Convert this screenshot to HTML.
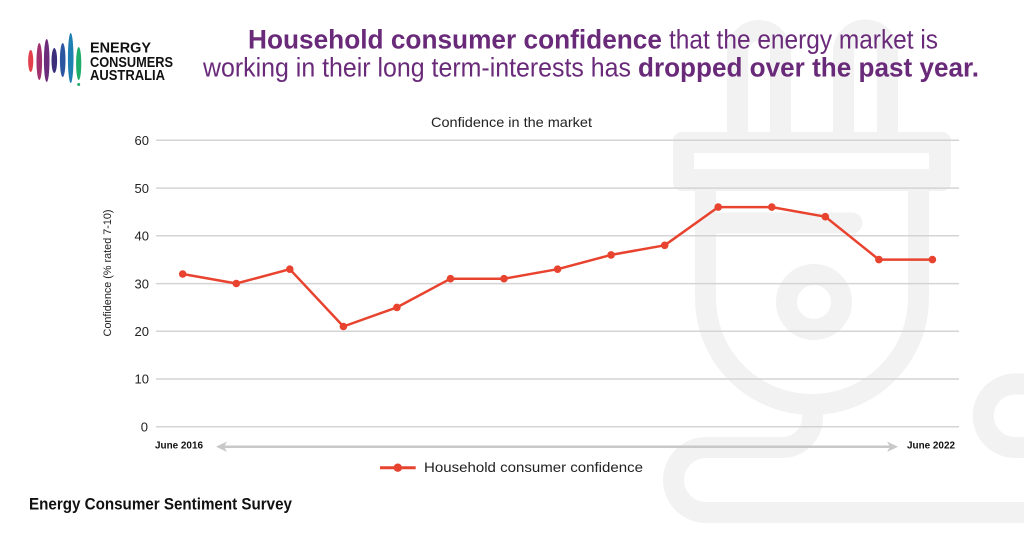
<!DOCTYPE html>
<html><head><meta charset="utf-8"><style>
html,body{margin:0;padding:0;background:#fff;}
svg{display:block;}
text{font-family:"Liberation Sans",sans-serif;}
</style></head><body>
<svg width="1024" height="538" viewBox="0 0 1024 538" xmlns="http://www.w3.org/2000/svg">
<rect width="1024" height="538" fill="#fff"/>
<!-- background plug icon -->
<g fill="none" stroke="#f2f2f2" stroke-width="21">
  <path d="M737.5,135 V52 A21.5,21.5 0 0 1 780.5,52 V135"/>
  <path d="M843.5,135 V52 A22,22 0 0 1 887.5,52 V135"/>
  <path d="M705.5,185 V298 A106.5,106.5 0 0 0 918.5,298 V185"/>
  <path d="M706,223 H852" stroke-linecap="round"/>
  <circle cx="814" cy="302" r="27.5"/>
  <path d="M812.5,400 V417.5 A30,30 0 0 1 782.5,447.5 H706 A32.5,32.5 0 0 0 706,512.5 H1030"/>
  <path d="M1030,384 H1015 A31.75,31.75 0 0 0 1015,447.5 H1030"/>
</g>
<rect x="673" y="132" width="278" height="59" rx="9" fill="#f2f2f2"/>
<rect x="694" y="153" width="235" height="16" fill="#fff"/>

<!-- logo -->
<g>
  <ellipse cx="30.7" cy="61" rx="2.6" ry="11" fill="#e2414b"/>
  <ellipse cx="39.3" cy="61.5" rx="2.8" ry="18.5" fill="#a0306e"/>
  <ellipse cx="46.7" cy="60.5" rx="2.8" ry="21.5" fill="#6b2c7c"/>
  <ellipse cx="54.3" cy="60.5" rx="2.8" ry="12.5" fill="#3b2f7a"/>
  <ellipse cx="62.7" cy="60" rx="2.8" ry="17" fill="#2d56a0"/>
  <ellipse cx="70.7" cy="58" rx="2.8" ry="25" fill="#1f7fb0"/>
  <ellipse cx="78.7" cy="63.5" rx="2.6" ry="16.5" fill="#1eac6a"/>
  <circle cx="78.7" cy="84.5" r="1.5" fill="#1eac6a"/>
  <text x="90" y="52.7" font-size="15" font-weight="bold" fill="#111" textLength="61" lengthAdjust="spacingAndGlyphs">ENERGY</text>
  <text x="90" y="67" font-size="15" font-weight="bold" fill="#111" textLength="83" lengthAdjust="spacingAndGlyphs">CONSUMERS</text>
  <text x="90" y="80" font-size="15" font-weight="bold" fill="#111" textLength="75" lengthAdjust="spacingAndGlyphs">AUSTRALIA</text>
</g>

<!-- title -->
<g fill="#6a2a7a" font-size="27">
  <text x="248" y="48.5" font-weight="bold" textLength="414" lengthAdjust="spacingAndGlyphs">Household consumer confidence</text>
  <text x="669" y="48.5" textLength="269" lengthAdjust="spacingAndGlyphs">that the energy market is</text>
  <text x="203" y="76.5" textLength="428" lengthAdjust="spacingAndGlyphs">working in their long term-interests has</text>
  <text x="638" y="76.5" font-weight="bold" textLength="341" lengthAdjust="spacingAndGlyphs">dropped over the past year.</text>
</g>

<!-- chart title -->
<text x="431" y="127" font-size="14" fill="#222" textLength="161" lengthAdjust="spacingAndGlyphs">Confidence in the market</text>

<!-- gridlines -->
<g stroke="#d4d4d4" stroke-width="1.5">
  <line x1="156" y1="140.3" x2="959" y2="140.3"/>
  <line x1="156" y1="188.1" x2="959" y2="188.1"/>
  <line x1="156" y1="235.8" x2="959" y2="235.8"/>
  <line x1="156" y1="283.6" x2="959" y2="283.6"/>
  <line x1="156" y1="331.3" x2="959" y2="331.3"/>
  <line x1="156" y1="379.0" x2="959" y2="379.0"/>
  <line x1="156" y1="426.7" x2="959" y2="426.7"/>
</g>
<g font-size="13" fill="#222" text-anchor="end">
  <text x="149" y="145">60</text>
  <text x="149" y="192.8">50</text>
  <text x="149" y="240.5">40</text>
  <text x="149" y="288.3">30</text>
  <text x="149" y="336">20</text>
  <text x="149" y="383.7">10</text>
  <text x="148" y="431.4">0</text>
</g>
<text transform="translate(111,273) rotate(-90)" font-size="11" fill="#222" text-anchor="middle" textLength="127" lengthAdjust="spacingAndGlyphs">Confidence (% rated 7-10)</text>

<!-- time arrow -->
<line x1="224" y1="446.7" x2="890" y2="446.7" stroke="#c8c8c8" stroke-width="2.5"/>
<path d="M216,446.7 L227,441.5 L224,446.7 L227,451.9 Z" fill="#c8c8c8"/>
<path d="M898,446.7 L887,441.5 L890,446.7 L887,451.9 Z" fill="#c8c8c8"/>
<text x="155" y="448.5" font-size="10.5" font-weight="bold" fill="#111" textLength="48" lengthAdjust="spacingAndGlyphs">June 2016</text>
<text x="907" y="448.5" font-size="10.5" font-weight="bold" fill="#111" textLength="48" lengthAdjust="spacingAndGlyphs">June 2022</text>

<!-- series -->
<polyline fill="none" stroke="#e8432f" stroke-width="2.5" stroke-linejoin="round"
 points="182.7,274.0 236.3,283.5 289.8,269.2 343.4,326.5 396.9,307.4 450.5,278.7 504.0,278.7 557.6,269.2 611.1,254.9 664.7,245.3 718.2,207.1 771.8,207.1 825.3,216.7 878.9,259.6 932.4,259.6"/>
<g fill="#e8432f">
  <circle cx="182.7" cy="274.0" r="3.8"/>
  <circle cx="236.3" cy="283.5" r="3.8"/>
  <circle cx="289.8" cy="269.2" r="3.8"/>
  <circle cx="343.4" cy="326.5" r="3.8"/>
  <circle cx="396.9" cy="307.4" r="3.8"/>
  <circle cx="450.5" cy="278.7" r="3.8"/>
  <circle cx="504.0" cy="278.7" r="3.8"/>
  <circle cx="557.6" cy="269.2" r="3.8"/>
  <circle cx="611.1" cy="254.9" r="3.8"/>
  <circle cx="664.7" cy="245.3" r="3.8"/>
  <circle cx="718.2" cy="207.1" r="3.8"/>
  <circle cx="771.8" cy="207.1" r="3.8"/>
  <circle cx="825.3" cy="216.7" r="3.8"/>
  <circle cx="878.9" cy="259.6" r="3.8"/>
  <circle cx="932.4" cy="259.6" r="3.8"/>
</g>

<!-- legend -->
<line x1="380" y1="467.7" x2="415.7" y2="467.7" stroke="#e8432f" stroke-width="3"/>
<circle cx="397.8" cy="467.7" r="4.2" fill="#e8432f"/>
<text x="424" y="472" font-size="14" fill="#222" textLength="219" lengthAdjust="spacingAndGlyphs">Household consumer confidence</text>

<!-- footer -->
<text x="29" y="509.5" font-size="16.5" font-weight="bold" fill="#111" textLength="263" lengthAdjust="spacingAndGlyphs">Energy Consumer Sentiment Survey</text>
</svg>
</body></html>
